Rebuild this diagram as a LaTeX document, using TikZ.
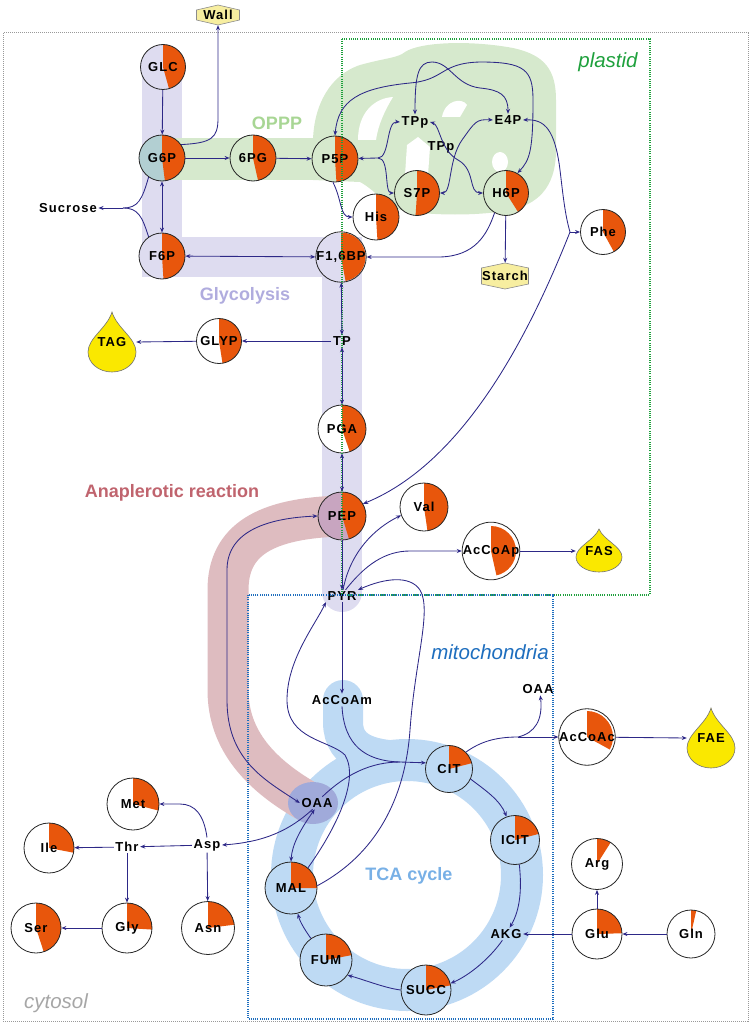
\documentclass[tikz,border=0pt]{standalone}
\usepackage{fontspec}
\setmainfont{Liberation Sans}
\newfontfamily\labf[LetterSpace=8]{Liberation Sans}
\usetikzlibrary{arrows.meta}
\definecolor{navy}{RGB}{45,40,135}
\definecolor{pieor}{RGB}{232,86,12}
\definecolor{bandpur}{RGB}{222,220,240}
\definecolor{bandgrn}{RGB}{214,233,205}
\definecolor{bandblu}{RGB}{190,218,244}
\definecolor{bandpnk}{RGB}{222,188,192}
\definecolor{oaablob}{RGB}{160,170,218}
\definecolor{tealf}{RGB}{178,207,210}
\definecolor{mauvef}{RGB}{200,165,192}
\definecolor{hexf}{RGB}{247,238,160}
\definecolor{dropf}{RGB}{250,232,0}
\definecolor{lblgrn}{RGB}{168,214,148}
\definecolor{lblpur}{RGB}{176,172,222}
\definecolor{lblpnk}{RGB}{192,100,110}
\definecolor{lblblu}{RGB}{120,176,230}
\definecolor{plgrn}{RGB}{30,160,60}
\definecolor{mitblu}{RGB}{30,110,190}
\newcommand\pienode[7]{%
 \fill[#6] (#2,-#3) circle[radius=#4];
 \fill[pieor] (#2,-#3) -- ++(0,#4) arc[start angle=90,end angle={90-360*#5},radius=#4] -- cycle;
 \node[pie,minimum size={2*#4}] (#1) at (#2,-#3) {#7};}
\newcommand\hexnode[6]{%
 \filldraw[hexst] ({#2-#4/2},{-#3+#5/2-5}) -- (#2,{-#3+#5/2}) -- ({#2+#4/2},{-#3+#5/2-5}) -- ({#2+#4/2},{-#3-#5/2+5}) -- (#2,{-#3-#5/2}) -- ({#2-#4/2},{-#3-#5/2+5}) -- cycle;
 \node[txt,minimum width=#4,minimum height=#5] (#1) at (#2,-#3) {#6};}
\newcommand\dropnode[8]{%
 \filldraw[dropst] (#2,-#3) .. controls ({#2+0.2*#4},{-#3-0.4*(#6-#3)}) and ({#2+#4},{-#6+0.7*#5}) .. ({#2+#4},-#6) arc[start angle=0,end angle=-180,x radius=#4,y radius=#5] .. controls ({#2-#4},{-#6+0.7*#5}) and ({#2-0.2*#4},{-#3-0.4*(#6-#3)}) .. cycle;
 \node[txt,minimum width={2*#4}] (#1) at (#2,-#8) {#7};}
\begin{document}
\begin{tikzpicture}[x=1pt,y=1pt,
 flow/.style={draw=navy,line width=0.85pt,-{Stealth[length=5pt,width=4pt]}},
 flowb/.style={flow,{Stealth[length=5pt,width=4pt]}-{Stealth[length=5pt,width=4pt]}},
 plain/.style={draw=navy,line width=0.85pt},
 pie/.style={circle,draw=black!85,line width=0.8pt,inner sep=0pt,font=\labf\bfseries\fontsize{13}{14}\selectfont},
 txt/.style={inner sep=1.5pt,font=\labf\bfseries\fontsize{13}{14}\selectfont},
 hexst/.style={fill=hexf,draw=black!45,line width=0.6pt},
 dropst/.style={fill=dropf,draw=black!55,line width=0.6pt},
 blab/.style={font=\bfseries\fontsize{18}{20}\selectfont},
 ilab/.style={font=\itshape\fontsize{20.5}{22}\selectfont}]
\useasboundingbox (0,0) rectangle (752,-1027);
% ---- bands
\draw[bandpur,line width=40pt,line join=miter] (162,-67) -- (162,-257) -- (342,-257) -- (342,-592);
\fill[bandpur] (342,-592) circle[radius=20];
\draw[bandgrn,line width=42pt] (162,-159) -- (320,-159);
\fill[bandgrn] (313,-180) -- (313,-140) .. controls (314,-105) and (330,-75) .. (360,-65) .. controls (385,-58) and (398,-58) .. (405,-52) .. controls (420,-42) and (470,-40) .. (513,-48) .. controls (545,-55) and (556,-70) .. (556,-100) -- (556,-150) .. controls (556,-190) and (535,-205) .. (510,-210) .. controls (480,-216) and (430,-216) .. (400,-210) .. controls (385,-205) and (375,-190) .. (360,-182) -- cycle;
\fill[white] (358,-140) .. controls (358,-112) and (375,-98) .. (393,-97) .. controls (385,-110) and (378,-125) .. (376,-140) -- cycle;
\fill[white] (405,-175) -- (407,-145) -- (418,-137) -- (430,-147) -- (428,-175) -- cycle;
\fill[white] (442,-117) .. controls (445,-100) and (462,-97) .. (467,-105) -- (460,-117) -- cycle;
\fill[white] (500,-162) ellipse[x radius=8,y radius=10];
\draw[bandblu,line width=42pt] (407,-875) circle[radius=115];
\draw[bandblu,line width=40pt,line cap=round] (343,-700) -- (343,-722) .. controls (343,-755) and (375,-761) .. (410,-761);
\draw[bandpnk,line width=41pt] (342,-516) .. controls (265,-518) and (228,-540) .. (228,-590) -- (228,-690) .. controls (228,-740) and (260,-775) .. (310,-803);
\fill[oaablob] (313,-803) ellipse[x radius=25,y radius=21];
% ---- nodes
\pienode{GLC}{163}{67}{22.5}{0.457}{bandpur}{GLC}
\pienode{G6P}{162}{158}{23}{0.48}{tealf}{G6P}
\pienode{PG6}{253}{158}{23}{0.465}{bandgrn}{6PG}
\pienode{P5P}{335}{159}{23}{0.49}{bandgrn}{P5P}
\pienode{F6P}{162}{256}{23}{0.49}{bandpur}{F6P}
\pienode{F16BP}{341}{257}{24.5}{0.47}{bandpur}{F1,6BP}
\pienode{His}{376}{217}{23}{0.49}{white}{His}
\pienode{S7P}{417}{193}{22.5}{0.51}{bandgrn}{S7P}
\pienode{H6P}{506}{193}{22.5}{0.41}{bandgrn}{H6P}
\pienode{Phe}{603}{232}{22.5}{0.42}{white}{Phe}
\pienode{GLYP}{219}{341}{22.5}{0.475}{white}{GLYP}
\pienode{PGA}{342}{429}{24}{0.448}{white}{PGA}
\pienode{PEP}{342}{516}{24}{0.453}{mauvef}{PEP}
\pienode{Val}{424}{507}{24}{0.477}{white}{Val}
\pienode{AcCoAp}{491}{551}{25}{0.465}{white}{AcCoAp}
\pienode{AcCoAc}{587}{737}{26}{0.33}{white}{AcCoAc}
\pienode{CIT}{449}{769}{23.5}{0.21}{bandblu}{CIT}
\pienode{ICIT}{515}{840}{24.5}{0.21}{bandblu}{ICIT}
\pienode{SUCC}{426}{990}{25}{0.22}{bandblu}{SUCC}
\pienode{FUM}{326}{960}{26}{0.22}{bandblu}{FUM}
\pienode{MAL}{291}{888}{26}{0.25}{bandblu}{MAL}
\pienode{Arg}{597}{864}{25.5}{0.09}{white}{Arg}
\pienode{Glu}{597}{934}{25}{0.245}{white}{Glu}
\pienode{Gln}{691}{934}{24}{0.035}{white}{Gln}
\pienode{Met}{133}{804}{26}{0.29}{white}{Met}
\pienode{Ile}{49}{848}{25}{0.28}{white}{Ile}
\pienode{Ser}{36}{928}{25}{0.45}{white}{Ser}
\pienode{Gly}{127}{928}{25}{0.26}{white}{Gly}
\pienode{Asn}{208}{928}{26.5}{0.23}{white}{Asn}
\node[txt] (Sucrose) at (68,-208) {Sucrose};
\node[txt] (TPp1) at (415,-122) {TPp};
\node[txt] (TPp2) at (441,-147) {TPp};
\node[txt] (E4P) at (508,-120) {E4P};
\node[txt] (TP) at (342,-341) {TP};
\node[txt] (PYR) at (342,-596) {PYR};
\node[txt] (AcCoAm) at (342,-700) {AcCoAm};
\node[txt] (OAA2) at (538,-689) {OAA};
\node[txt] (OAA) at (317,-803) {OAA};
\node[txt] (AKG) at (506,-934) {AKG};
\node[txt] (Thr) at (127,-847) {Thr};
\node[txt] (Asp) at (207,-845) {Asp};
\hexnode{Wall}{218}{15}{43}{20}{Wall}
\hexnode{Starch}{505}{276}{47}{26}{Starch}
\dropnode{TAG}{112}{312}{24}{20}{352}{TAG}{342}
\dropnode{FAS}{599}{529}{23}{15}{557}{FAS}{551}
\dropnode{FAE}{711}{708}{24}{20}{748}{FAE}{738}
% ---- compartments
\draw[black!40,line width=1pt,dash pattern=on 1pt off 1pt] (3,-33) rectangle (748,-1021);
\draw[plgrn,line width=1.2pt,dash pattern=on 1pt off 1.2pt] (342,-39) rectangle (650,-595);
\draw[mitblu,line width=1.2pt,dash pattern=on 1pt off 1.2pt] (248,-595) rectangle (553,-1019);
% ---- connectors
\draw[flow] (GLC) -- (G6P);
\draw[flow] (G6P.35) .. controls (212,-143) and (218,-138) .. (218,-118) -- (Wall.south);
\draw[flow] (G6P) -- (PG6);
\draw[flow] (PG6) -- (P5P);
\draw[flowb] (G6P) -- (F6P);
\coordinate (sj) at (123,-208);
\draw[plain] (G6P.235) .. controls (142,-200) and (138,-208) .. (sj);
\draw[plain] (F6P.125) .. controls (142,-216) and (138,-208) .. (sj);
\draw[flow] (sj) -- (Sucrose);
\draw[flowb] (F6P) -- (F16BP);
\draw[flowb] (F16BP) -- (TP);
\draw[flow] (TP) -- (GLYP);
\draw[flow] (GLYP) -- (TAG.east);
\draw[flowb] (TP) -- (PGA);
\draw[flowb] (PGA) -- (PEP);
\draw[flow] (PEP) -- (PYR);
\coordinate (pj) at (378,-158);
\draw[flow] (pj) -- (P5P);
\draw[flow] (pj) .. controls (390,-158) and (386,-121) .. (TPp1.west);
\draw[flow] (pj) .. controls (390,-158) and (384,-193) .. (S7P.west);
\draw[flow] (P5P.265) .. controls (342,-200) and (340,-217) .. (His.west);
\draw[flowb] (S7P.east) .. controls (452,-193) and (448,-160) .. (462,-140) .. controls (475,-122) and (476,-119) .. (E4P.west);
\draw[flowb] (TPp1.east) .. controls (440,-125) and (440,-150) .. (458,-160) .. controls (476,-170) and (468,-193) .. (H6P.west);
\draw[flowb] (P5P.north) .. controls (338,-100) and (360,-88) .. (410,-83) .. controls (445,-80) and (440,-63) .. (480,-62) .. controls (525,-62) and (533,-70) .. (533,-100) .. controls (533,-150) and (530,-160) .. (H6P.60);
\draw[flowb] (TPp1.north) .. controls (415,-75) and (418,-62) .. (432,-62) .. controls (450,-62) and (455,-85) .. (480,-88) .. controls (500,-90) and (508,-95) .. (E4P.north);
\coordinate (phej) at (570,-232);
\draw[flow] (phej) .. controls (565,-215) and (563,-195) .. (560,-170) .. controls (555,-130) and (545,-119) .. (E4P.east);
\draw[flow] (phej) -- (Phe.west);
\draw[flow] (phej) .. controls (535,-320) and (470,-460) .. (PEP.30);
\draw[flow] (H6P) -- (Starch);
\draw[flow] (H6P.240) .. controls (487,-235) and (475,-256) .. (440,-257) -- (F16BP.east);
\draw[flow] (PYR.80) .. controls (350,-552) and (375,-528) .. (Val.200);
\draw[flow] (PYR.60) .. controls (365,-565) and (385,-551) .. (410,-551) -- (AcCoAp.west);
\draw[flow] (AcCoAp) -- (FAS.west);
\draw[flow] (MAL.5) .. controls (375,-855) and (405,-800) .. (410,-730) .. controls (415,-660) and (432,-610) .. (420,-590) .. controls (410,-575) and (385,-578) .. (PYR.north east);
\draw[flow] (MAL.50) .. controls (335,-830) and (360,-780) .. (345,-755) .. controls (330,-740) and (287,-740) .. (287,-700) .. controls (287,-660) and (315,-625) .. (PYR.south west);
\draw[flow] (PYR) -- (AcCoAm);
\draw[flow] (AcCoAm.south) .. controls (344,-745) and (365,-761) .. (400,-762) -- (CIT.165);
\draw[plain] (OAA.50) .. controls (345,-775) and (370,-762) .. (400,-762);
\draw[flow] (CIT.-25) .. controls (485,-790) and (500,-800) .. (ICIT.110);
\draw[flow] (ICIT.-80) .. controls (522,-890) and (520,-910) .. (AKG.60);
\draw[flow] (AKG.240) .. controls (490,-958) and (470,-975) .. (SUCC.15);
\draw[flow] (SUCC.west) .. controls (385,-988) and (365,-980) .. (FUM.-35);
\draw[flow] (FUM.125) .. controls (305,-930) and (300,-922) .. (MAL.-75);
\draw[flowb] (OAA.250) .. controls (300,-830) and (292,-845) .. (MAL.north);
\draw[flowb] (OAA.west) .. controls (265,-780) and (227,-760) .. (227,-700) -- (227,-570) .. controls (227,-530) and (270,-518) .. (PEP.west);
\draw[flow] (OAA.235) .. controls (290,-830) and (265,-842) .. (Asp.east);
\draw[flow] (Asp.north) .. controls (204,-815) and (195,-804) .. (180,-804) -- (Met.east);
\draw[flow] (Asp) -- (Thr);
\draw[flow] (Thr) -- (Ile);
\draw[flow] (Thr) -- (Gly);
\draw[flow] (Gly) -- (Ser);
\draw[flow] (Asp) -- (Asn);
\coordinate (cj) at (518,-737);
\draw[plain] (CIT.45) .. controls (480,-742) and (495,-737) .. (cj);
\draw[flow] (cj) -- (AcCoAc.west);
\draw[flow] (cj) .. controls (535,-733) and (543,-720) .. (OAA2.-70);
\draw[flow] (AcCoAc) -- (FAE.west);
\draw[flow] (Glu) -- (AKG);
\draw[flow] (Gln) -- (Glu);
\draw[flow] (Glu) -- (Arg);
% ---- labels
\node[blab,text=lblgrn] (lOPPP) at (277,-123) {OPPP};
\node[blab,text=lblpur] (lGly) at (245,-296) {Glycolysis};
\node[blab,text=lblpnk] (lAna) at (172,-493) {Anaplerotic reaction};
\node[blab,text=lblblu] (lTCA) at (409,-876) {TCA cycle};
\node[ilab,text=plgrn] (lpl) at (608,-62) {plastid};
\node[ilab,text=mitblu] (lmi) at (490,-652) {mitochondria};
\node[ilab,text=black!35] (lcy) at (56,-1003) {cytosol};
\end{tikzpicture}
\end{document}
